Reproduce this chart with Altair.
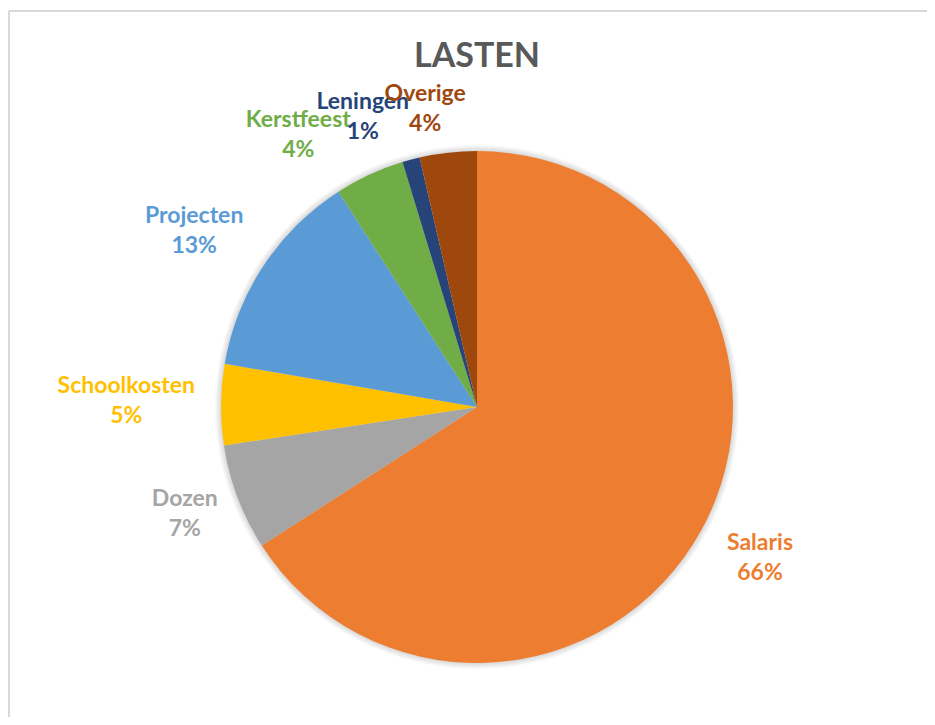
import altair as alt
import pandas as pd

categories = ["Salaris", "Dozen", "Schoolkosten", "Projecten", "Kerstfeest", "Leningen", "Overige"]
values = [65.9, 6.7, 5.1, 13.2, 4.4, 1.1, 3.6]
colors = ["#ED7D31", "#A5A5A5", "#FFC000", "#5B9BD5", "#70AD47", "#264478", "#9E480E"]
title_text = ["LASTEN"]

W, H = 919, 709
CX, CY, R = 469, 399, 256

df = pd.DataFrame({"cat": categories, "val": values, "order": list(range(len(categories)))})
one = pd.DataFrame({"t": title_text})

color_scale = alt.Scale(domain=categories, range=colors)
base = alt.Chart(df)

# soft shadow rings around the pie
shadow_layers = []
for k in range(1, 7):
    shadow_layers.append(
        alt.Chart(one).mark_arc(outerRadius=R + k, theta=0, theta2=6.2832,
                                color="black", opacity=0.025)
        .encode(x=alt.value(CX), y=alt.value(CY))
    )

pie = base.mark_arc(outerRadius=R).encode(
    theta=alt.Theta("val:Q", stack=True),
    color=alt.Color("cat:N", scale=color_scale, legend=None),
    order=alt.Order("order:Q"),
    x=alt.value(CX),
    y=alt.value(CY),
)

labels = (
    base.transform_joinaggregate(total="sum(val)")
    .transform_window(cum="sum(val)", sort=[alt.SortField("order")], frame=[None, 0])
    .transform_calculate(
        m="(datum.cum - datum.val/2) / datum.total * 360",
        pct="format(datum.val / datum.total, '.0%')",
    )
    .transform_calculate(
        # spread crowded labels near the top counter-clockwise (best-fit style)
        a="(datum.m - max(0, datum.m - 300) * (360 - datum.m) / 100) * PI / 180",
        hw="max(length(datum.cat), length(datum.pct)) * 5.8",
        label="datum.cat + '\\n' + datum.pct",
    )
    .transform_calculate(lr="281 + datum.hw * abs(sin(datum.a)) + 12 * abs(cos(datum.a))")
    .mark_text(font="Lato", fontSize=23, fontWeight="bold", lineBreak="\n",
               lineHeight=30, align="center", baseline="middle", dy=-18)
    .encode(
        theta=alt.Theta("a:Q", scale=None, stack=False),
        radius=alt.Radius("lr:Q", scale=None),
        text="label:N",
        color=alt.Color("cat:N", scale=color_scale, legend=None),
        x=alt.value(CX),
        y=alt.value(CY),
    )
)

title = alt.Chart(one).mark_text(
    font="Lato", fontSize=34, fontWeight="bold", color="#595959",
    align="center", baseline="alphabetic",
).encode(text="t:N", x=alt.value(CX), y=alt.value(59))

border_left = alt.Chart(one).mark_rule(color="#D9D9D9", strokeWidth=2).encode(
    x=alt.value(1), y=alt.value(3), y2=alt.value(H))
border_top = alt.Chart(one).mark_rule(color="#D9D9D9", strokeWidth=2).encode(
    x=alt.value(1), x2=alt.value(W), y=alt.value(3))

chart = alt.layer(
    border_left, border_top, *shadow_layers, pie, labels, title
).properties(
    width=W, height=H, padding=0,
    autosize=alt.AutoSizeParams(type="fit", contains="padding"),
).configure_view(stroke=None)

chart.save("out.html", embed_options={"renderer": "svg", "actions": False})
